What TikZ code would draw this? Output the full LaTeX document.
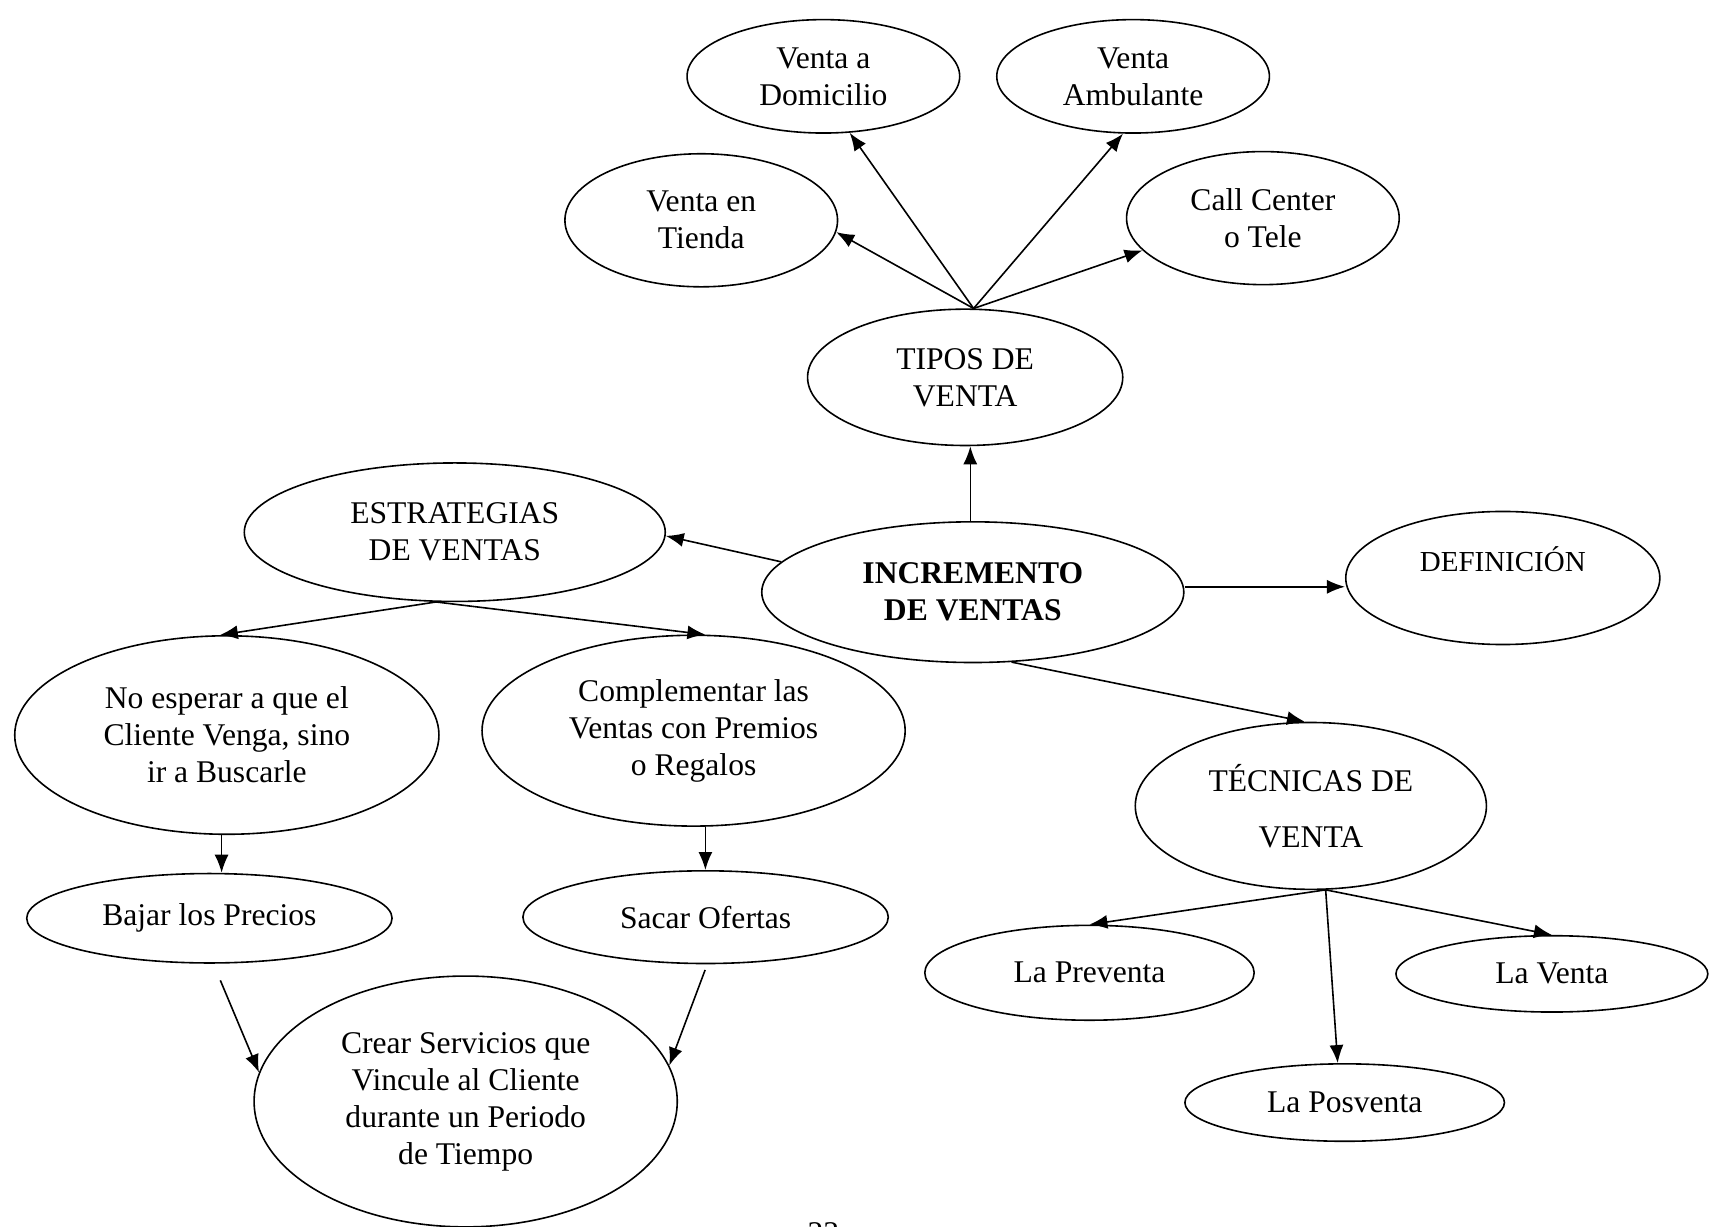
\documentclass[tikz,border=0pt]{standalone}
\usepackage{fontspec}
\setmainfont{Liberation Serif}
\usetikzlibrary{shapes.geometric,arrows.meta}
\begin{document}
\begin{tikzpicture}[x=0.5453pt,y=-0.5453pt,
  el/.style 2 args={draw, ellipse, line width=0.8pt, inner sep=0pt,
    minimum width=#1*0.5453pt, minimum height=#2*0.5453pt, align=center,
    font=\fontsize{15.8}{18.5}\selectfont},
  arr/.style={draw, line width=0.8pt, -{Latex[length=9pt,width=7pt]}},
  txt/.style={inner sep=0pt, align=center, font=\fontsize{15.8}{18.5}\selectfont}]
\useasboundingbox (0,0) rectangle (1568,1125);
\clip (0,0) rectangle (1568,1125);

% nodes
\node[el={250}{104}] (dom) at (755,70) {Venta a\\Domicilio};
\node[el={250}{104}] (amb) at (1039,70) {Venta\\Ambulante};
\node[el={250}{122}] (tienda) at (643,202) {Venta en\\Tienda};
\node[el={250}{122}] (callc) at (1158,200) {Call Center\\o Tele};
\node[el={289}{125}] (tipos) at (885,346) {TIPOS DE\\VENTA};
\node[el={386}{127}] (estrat) at (417,488) {ESTRATEGIAS\\DE VENTAS};
\node[el={387}{129}] (incr) at (892,543) {\textbf{INCREMENTO}\\\textbf{DE VENTAS}};
\node[el={288}{122}] (def) at (1378,530) {};
\node[txt, font=\fontsize{14.5}{17}\selectfont] (deftxt) at ([yshift=9.3pt]def.center) {DEFINICIÓN};
\node[el={389}{182}] (noesp) at (208,674) {No esperar a que el\\Cliente Venga, sino\\ir a Buscarle};
\node[el={388}{175}] (compl) at (636,670) {Complementar las\\Ventas con Premios\\o Regalos};
\node[el={322}{153}, font=\fontsize{15.8}{27.8}\selectfont] (tec) at (1202,739) {TÉCNICAS DE\\VENTA};
\node[el={335}{82}] (bajar) at (192,842) {Bajar los Precios};
\node[el={335}{85}] (sacar) at (647,841) {Sacar Ofertas};
\node[el={388}{230}] (crear) at (427,1010) {Crear Servicios que\\Vincule al Cliente\\durante un Periodo\\de Tiempo};
\node[el={302}{87}] (prev) at (999,892) {La Preventa};
\node[el={286}{70}] (lav) at (1423,893) {La Venta};
\node[el={293}{71}] (pos) at (1233,1011) {La Posventa};
\node[txt, anchor=north] (pg) at (755,1121) {23};

% connectors
\draw[arr] (tipos.83) -- (tienda.-5);
\draw[arr] (tipos.83) -- (dom.-65);
\draw[arr] (tipos.83) -- (amb.-100);
\draw[arr] (tipos.83) -- (callc.195);
\draw[arr] (incr.92) -- (incr.92 |- tipos.south);
\draw[arr] (incr.171) -- (estrat.-1);
\draw[arr] ([yshift=2.7pt]incr.east) -- ([yshift=2.7pt]incr.east -| def.west);
\draw[arr] (incr.-61) -- (tec.94);
\draw[arr] (estrat.-105) -- (noesp.94);
\draw[arr] (estrat.-105) -- (compl.83);
\draw[arr] (noesp.-93) -- (noesp.-93 |- bajar.north);
\draw[arr] (compl.-83) -- (compl.-83 |- sacar.north);
\draw[arr, shorten <=9pt] (bajar.-85) -- (crear.172);
\draw[arr, shorten <=3pt] (sacar.-88) -- (crear.10);
\draw[arr] (tec.-80) -- (prev.north);
\draw[arr] (tec.-80) -- (pos.100);
\draw[arr] (tec.-80) -- (lav.north);
\end{tikzpicture}
\end{document}
